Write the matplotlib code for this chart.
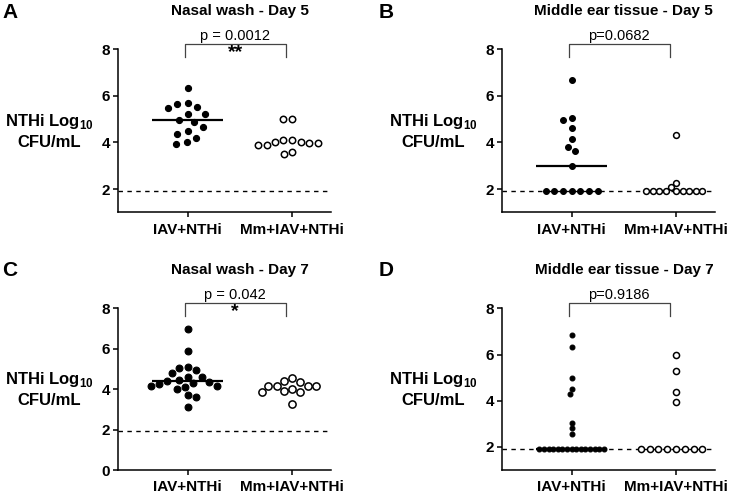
import numpy as np
import matplotlib
matplotlib.use('Agg')
import matplotlib.pyplot as plt
import matplotlib.transforms as mtransforms

# ---------------- data ----------------
groups = ['IAV+NTHi', 'Mm+IAV+NTHi']
LOD = 1.93

A_iav = [6.34, 5.70, 5.52, 5.48, 5.66, 5.23, 5.23, 4.95, 4.87, 4.65, 4.48, 4.21, 4.38, 4.00, 3.93]
A_mm = [5.02, 5.01, 3.99, 3.91, 3.91, 3.99, 4.10, 4.10, 4.01, 4.01, 3.59, 3.49]

B_iav = [6.69, 5.06, 4.95, 4.60, 4.14, 3.81, 3.63, 2.99,
         1.93, 1.93, 1.93, 1.93, 1.93, 1.93, 1.93]
B_mm = [4.32, 2.25, 2.08,
        1.93, 1.93, 1.93, 1.93, 1.93, 1.93, 1.93, 1.93, 1.93]

C_iav = [6.98, 5.91, 5.11, 5.07, 4.95, 4.78, 4.62, 4.62, 4.46, 4.42,
         4.37, 4.29, 4.24, 4.17, 4.16, 4.13, 3.99, 3.71, 3.60, 3.10]
C_mm = [3.99, 3.91, 4.17, 3.88, 4.34, 4.54, 3.85, 4.17, 4.41, 4.16, 4.16, 3.25]

D_iav = [6.83, 6.33, 4.97, 4.50, 4.31, 3.03, 2.83, 2.57,
         1.93, 1.93, 1.93, 1.93, 1.93, 1.93, 1.93, 1.93,
         1.93, 1.93, 1.93, 1.93, 1.93, 1.93, 1.93]
D_mm = [6.00, 5.27, 4.36, 3.93,
        1.93, 1.93, 1.93, 1.93, 1.93, 1.93, 1.93, 1.93]

titles = ['Nasal wash - Day 5', 'Middle ear tissue - Day 5',
          'Nasal wash - Day 7', 'Middle ear tissue - Day 7']
p_texts = ['p = 0.0012', 'p=0.0682', 'p = 0.042', 'p=0.9186']
stars = ['**', '', '*', '']
panel_letters = ['A', 'B', 'C', 'D']

# ---------------- style ----------------
plt.rcParams['font.family'] = ['Liberation Sans', 'DejaVu Sans']
plt.rcParams['mathtext.fontset'] = 'custom'
plt.rcParams['mathtext.rm'] = 'Liberation Sans:bold'
plt.rcParams['mathtext.bf'] = 'Liberation Sans:bold'

W, H = 750, 497
fig = plt.figure(figsize=(W / 100, H / 100), dpi=100)


def px_rect(left, top, right, bottom):
    return [left / W, 1 - bottom / H, (right - left) / W, (bottom - top) / H]


def swarm_offsets(ax, yvals, d_px):
    ys = np.asarray(yvals, float)
    ypx = ax.transData.transform(np.column_stack([np.zeros_like(ys), ys]))[:, 1]
    xunit = ax.transData.transform((1, 0))[0] - ax.transData.transform((0, 0))[0]
    order = np.argsort(-ypx, kind='stable')
    px_, py_ = [], []
    off = np.zeros(len(ys))
    for i in order:
        yi = ypx[i]
        cands = [0.0]
        for xj, yj in zip(px_, py_):
            dy = abs(yj - yi)
            if dy < d_px:
                dx = np.sqrt(d_px ** 2 - dy ** 2)
                cands += [xj + dx, xj - dx]
        cands.sort(key=lambda c: (abs(c), c))
        chosen = cands[-1]
        for c in cands:
            if all((c - xj) ** 2 + (yi - yj) ** 2 >= d_px ** 2 - 1e-6
                   for xj, yj in zip(px_, py_)):
                chosen = c
                break
        px_.append(chosen)
        py_.append(yi)
        off[i] = chosen / xunit
    return off


panels = [
    dict(rect=px_rect(117.7, 49.3, 330.7, 212.3), ylim=(1, 8), yticks=[2, 4, 6, 8],
         data=(A_iav, A_mm), spacing=(10.5, 8.7), msize=(4.4, 4.6),
         letter_xy=(10, 12)),
    dict(rect=px_rect(501.7, 49.3, 714.7, 212.3), ylim=(1, 8), yticks=[2, 4, 6, 8],
         data=(B_iav, B_mm), spacing=(8.7, 6.4), msize=(4.2, 4.2),
         letter_xy=(386, 12)),
    dict(rect=px_rect(117.7, 308.3, 330.7, 470), ylim=(0, 8), yticks=[0, 2, 4, 6, 8],
         data=(C_iav, C_mm), spacing=(8.8, 8.6), msize=(4.9, 5.2),
         letter_xy=(10, 271)),
    dict(rect=px_rect(501.7, 308.3, 714.7, 470), ylim=(1, 8), yticks=[2, 4, 6, 8],
         data=(D_iav, D_mm), spacing=(4.6, 8.8), msize=(3.5, 4.4),
         letter_xy=(386, 271)),
]

for k, p in enumerate(panels):
    ax = fig.add_axes(p['rect'])
    ax.set_xlim(-0.67, 1.37)
    ax.set_ylim(*p['ylim'])
    for s in ['top', 'right']:
        ax.spines[s].set_visible(False)
    for s in ['left', 'bottom']:
        ax.spines[s].set_linewidth(1.1)
    ax.set_yticks(p['yticks'])
    ax.set_yticklabels([str(t) for t in p['yticks']], fontsize=11, fontweight='bold')
    ax.set_xticks([0, 1])
    ax.set_xticklabels(groups, fontsize=11, fontweight='bold')
    ax.tick_params(axis='both', width=1.1, length=3.5, pad=2)
    ax.tick_params(axis='x', pad=4)

    ax.axhline(LOD, color='black', lw=1.0, dashes=(3.2, 3.2), zorder=1)

    for gi, vals in enumerate(p['data']):
        off = swarm_offsets(ax, vals, p['spacing'][gi])
        xs = gi + off
        if gi == 0:
            ax.plot(xs, vals, 'o', ms=p['msize'][gi], mfc='black', mec='black',
                    mew=0.8, ls='none', zorder=3, clip_on=False)
            med = np.median(vals)
            ax.plot([gi - 0.34, gi + 0.34], [med, med], color='black', lw=1.6,
                    zorder=2, solid_capstyle='butt')
        else:
            ax.plot(xs, vals, 'o', ms=p['msize'][gi], mfc='white', mec='black',
                    mew=1.1, ls='none', zorder=3, clip_on=False)

    # annotations in (data x, figure-pixel y)
    top_px = H - (p['rect'][1] + p['rect'][3]) * H
    tr = mtransforms.blended_transform_factory(ax.transData, fig.transFigure)

    def fy(ypix):
        return 1 - ypix / H

    ax.text(0.5, fy(top_px - 38), titles[k], transform=tr, ha='center', va='center',
            fontsize=11, fontweight='bold')
    bx0, bx1 = -0.03, 0.94
    ax.plot([bx0, bx0, bx1, bx1],
            [fy(top_px + 8), fy(top_px - 5.5), fy(top_px - 5.5), fy(top_px + 8)],
            transform=tr, color='#444444', lw=0.9, clip_on=False)
    ax.text((bx0 + bx1) / 2, fy(top_px - 13), p_texts[k], transform=tr,
            ha='center', va='center', fontsize=10.5)
    if stars[k]:
        ax.text((bx0 + bx1) / 2, fy(top_px + 3.5), stars[k], transform=tr,
                ha='center', va='center', fontsize=14, fontweight='bold')

    # y label
    mid_px = top_px + p['rect'][3] * H / 2
    left_px = p['rect'][0] * W
    fig.text((left_px - 24) / W, fy(mid_px), 'NTHi Log$_{\\mathbf{10}}$\nCFU/mL',
             ha='right', va='center', multialignment='center',
             fontsize=12, fontweight='bold', linespacing=1.3)

    # panel letter
    lx, ly = p['letter_xy']
    fig.text(lx / W, fy(ly), panel_letters[k], ha='center', va='center',
             fontsize=15, fontweight='bold')

fig.savefig('out.png', dpi=100)
